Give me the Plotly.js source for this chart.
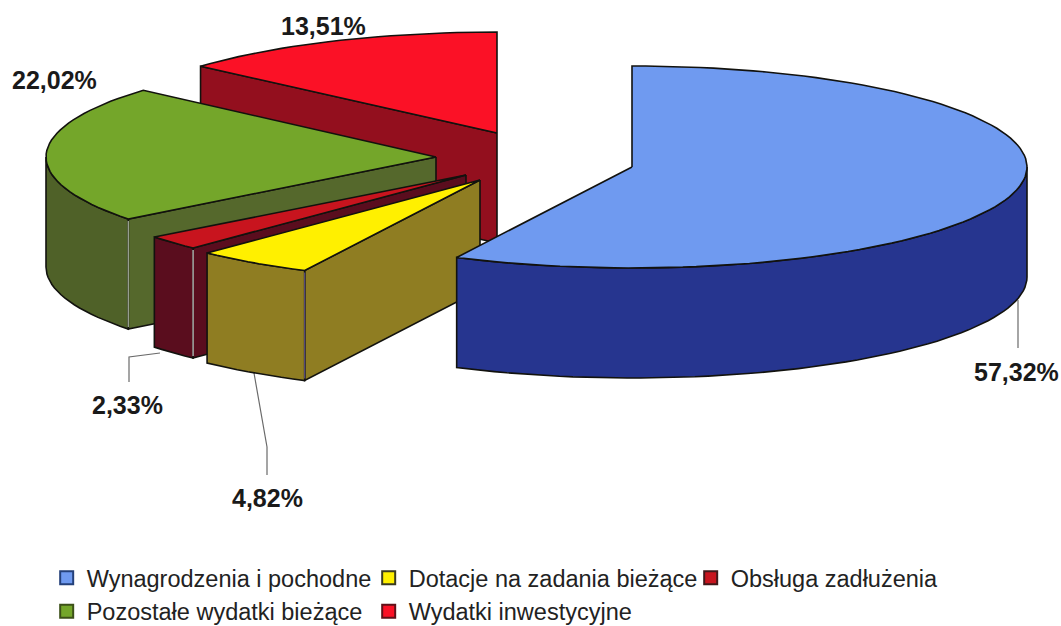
<!DOCTYPE html>
<html>
<head>
<meta charset="utf-8">
<script src="https://cdn.plot.ly/plotly-3.0.1.min.js"></script>
<style>html,body{margin:0;padding:0;background:#fff}#c{width:1061px;height:626px}</style>
</head>
<body>
<div id="c"></div>
<script>
// Data, in the clockwise slice order starting from 12 o'clock
const categories = ['Wynagrodzenia i pochodne','Dotacje na zadania bieżące','Obsługa zadłużenia','Pozostałe wydatki bieżące','Wydatki inwestycyjne'];
const shares = [57.32, 4.82, 2.33, 22.02, 13.51];
const labels = ['57,32%','4,82%','2,33%','22,02%','13,51%'];

// Styling
const topColors  = ['#6f9af0','#fff000','#c8141e','#74a62a','#fb1126'];
const sideColors = ['#26358f','#8f7d22','#5a0d1e','#4f6128','#930f1e'];
const faceColors = ['#26358f','#8f7d22','#5a0d1e','#55682c','#930f1e'];
const swatchEdge = ['#24407a','#3a3a20','#40181a','#3c5018','#601018'];
const cornerColors = [null,'#5a4f80','#d8d0d0','#a8b0a0',null];

// Pictorial geometry (in the page's pixel-sized data space)
const apexX = [632,480,466,436,497];
const apexY = [167,180,175,157,133];
const radX  = [395,395,395,390,395];
const radY  = 101, depth = 110;
const labelX = [1016,267,127,54,323];
const labelY = [372,498,405,80,26];
const leaderX = [[1018,1018],[254,267,267],[160,129,129],[],[]];
const leaderY = [[300,348],[373,447,475],[353,357,382],[],[]];
const drawOrder = [4,3,2,1,0];

const total = shares.reduce((a,b)=>a+b,0);
const starts = []; let acc = 0;
shares.forEach(s=>{starts.push(acc/total*360); acc+=s;});
const rad = d=>d*Math.PI/180;
function pt(i,a,dz){return [apexX[i]+radX[i]*Math.sin(rad(a)), apexY[i]-radY*Math.cos(rad(a))+(dz||0)];}
function arc(i,a0,a1,dz){const out=[],n=Math.max(2,Math.ceil(Math.abs(a1-a0)/2));
  for(let k=0;k<=n;k++){out.push(pt(i,a0+(a1-a0)*k/n,dz));} return out;}
function poly(pts,fill,extra){return Object.assign({type:'scatter',mode:'lines',x:pts.map(p=>p[0]),y:pts.map(p=>p[1]),
  fill:'toself',fillcolor:fill,line:{color:'#12120e',width:1.6},hoverinfo:'skip',showlegend:false},extra||{});}

const traces = [];
// leader lines
leaderX.forEach((lx,i)=>{ if(lx.length) traces.push({type:'scatter',mode:'lines',x:lx,y:leaderY[i],
  line:{color:'#6a6a6a',width:1.2},hoverinfo:'skip',showlegend:false}); });

drawOrder.forEach(i=>{
  const a0 = starts[i], a1 = a0+shares[i]/total*360;
  // cut face at the slice's starting angle
  const c = pt(i,a0), ap=[apexX[i],apexY[i]];
  if(a0>180){
    traces.push(poly([ap,c,[c[0],c[1]+depth],[ap[0],ap[1]+depth],ap],faceColors[i]));
  }
  // outer wall, front half only
  const f0=Math.max(a0,90), f1=Math.min(a1,270);
  if(f1>f0){
    const top=arc(i,f0,f1,0), bot=arc(i,f1,f0,depth);
    traces.push(poly(top.concat(bot,[top[0]]),sideColors[i]));
  }
  if(a0>180 && cornerColors[i]){
    traces.push({type:'scatter',mode:'lines',x:[c[0],c[0]],y:[c[1]+2,c[1]+depth-2],
      line:{color:cornerColors[i],width:1.2},hoverinfo:'skip',showlegend:false});
  }
  // top face
  const t=[ap].concat(arc(i,a0,a1,0),[ap]);
  traces.push(poly(t,topColors[i]));
});

// legend entries
categories.forEach((name,i)=>{
  traces.push({type:'scatter',mode:'markers',x:[null],y:[null],name:name,
    marker:{symbol:'square',size:13,color:topColors[i],line:{color:swatchEdge[i],width:2}},
    hoverinfo:'skip',showlegend:true});
});

const annotations = labels.map((t,i)=>({text:'<b>'+t+'</b>',x:labelX[i],y:labelY[i],xref:'x',yref:'y',showarrow:false,
  xanchor:'center',yanchor:'middle',font:{family:'"Liberation Sans",Arial,sans-serif',size:25,color:'#1a1a1a'}}));

const layout = {
  width:1061,height:626,margin:{l:0,r:0,t:0,b:0,autoexpand:false},paper_bgcolor:'#fff',plot_bgcolor:'#fff',
  xaxis:{range:[0,1061],visible:false,fixedrange:true},
  yaxis:{range:[626,0],visible:false,fixedrange:true},
  annotations:annotations,
  showlegend:true,
  legend:{orientation:'h',x:0.044,xanchor:'left',y:0.112,yanchor:'top',
    entrywidth:277,entrywidthmode:'pixels',traceorder:'normal',
    font:{family:'"Liberation Sans",Arial,sans-serif',size:23.5,color:'#222'},bgcolor:'rgba(0,0,0,0)'}
};
Plotly.newPlot('c',traces,layout,{displayModeBar:false,staticPlot:true});
</script>
</body>
</html>
